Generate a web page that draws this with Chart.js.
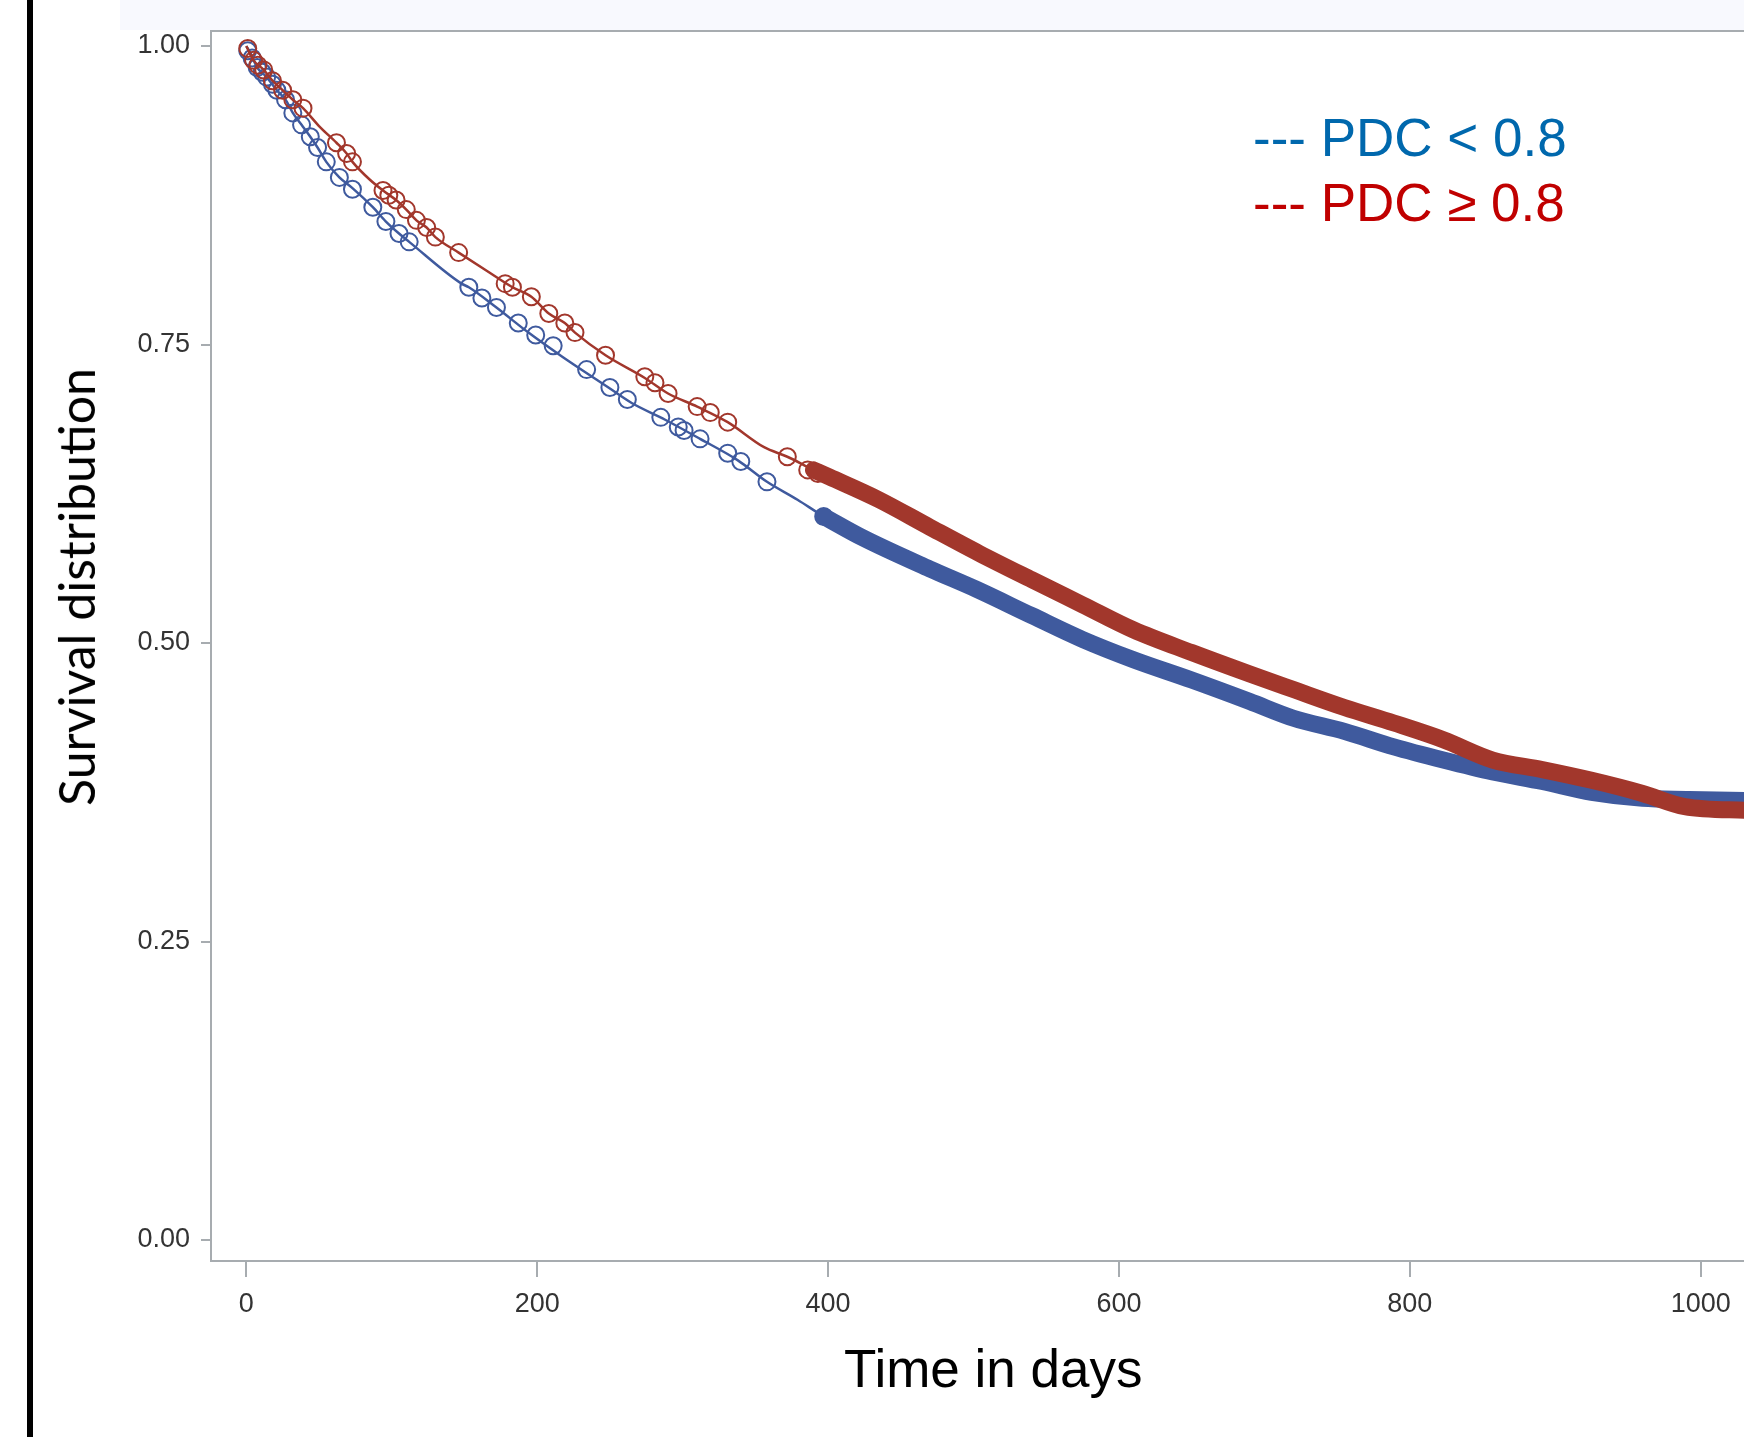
<!DOCTYPE html>
<html>
<head>
<meta charset="utf-8">
<script src="https://cdn.jsdelivr.net/npm/chart.js@4/dist/chart.umd.min.js"></script>
<style>
  html, body { margin:0; padding:0; background:#ffffff; overflow:hidden; width:1744px; height:1437px; }
  #wrap { position:absolute; left:0; top:0; width:1744px; height:1437px; overflow:hidden; }
  #topband { position:absolute; left:120px; top:0; width:1624px; height:30px; background:#f8f9fe; }
  #blackbar { position:absolute; left:27px; top:0; width:6px; height:1437px; background:#000; }
  canvas { position:absolute; left:0; top:0; }
  .lg { position:absolute; font-family:"Liberation Sans", Arial, sans-serif; font-size:53px; white-space:pre; line-height:1; }
  #xtitle { position:absolute; font-family:"Liberation Sans", Arial, sans-serif; font-size:53px; color:#000; white-space:pre; line-height:1; }
  #ytitle { position:absolute; font-family:Lato, "Liberation Sans", sans-serif; font-size:50px; color:#000; white-space:pre; line-height:1; transform-origin:center center; }
</style>
</head>
<body>
<div id="wrap">
  <div id="topband"></div>
  <div id="blackbar"></div>
  <canvas id="c" width="1900" height="1437" style="width:1900px;height:1437px;"></canvas>
  <div class="lg" id="lg1" style="left:1253px; top:111px; color:#0068ad;">--- PDC &lt; 0.8</div>
  <div class="lg" id="lg2" style="left:1253px; top:176px; color:#c00000;">--- PDC ≥ 0.8</div>
  <div id="xtitle">Time in days</div>
  <div id="ytitle">Survival distribution</div>
</div>
<script>
// ---- data ----
const xTickValues = [0, 200, 400, 600, 800, 1000];
const yTickValues = [0, 0.25, 0.5, 0.75, 1.0];

const blueDays = [0, 3, 7.5, 14, 21, 27, 32, 38, 44, 49, 55, 64, 73, 87, 96, 105, 112, 148, 153, 172, 194, 217, 249, 265, 288, 312, 338, 358, 379, 397, 424, 470, 502, 540, 575, 610, 650, 690, 720, 755, 789, 823, 857, 891, 925, 960, 992, 1030, 1130];
const blueSurv = [1.0, 0.994, 0.982, 0.974, 0.963, 0.955, 0.944, 0.934, 0.924, 0.915, 0.903, 0.890, 0.881, 0.865, 0.853, 0.843, 0.836, 0.801, 0.798, 0.781, 0.760, 0.740, 0.714, 0.701, 0.687, 0.671, 0.653, 0.635, 0.620, 0.606, 0.588, 0.562, 0.545, 0.523, 0.503, 0.486, 0.469, 0.451, 0.437, 0.426, 0.413, 0.402, 0.392, 0.384, 0.375, 0.370, 0.369, 0.368, 0.366];

const redDays = [0, 5, 12, 18, 25, 32, 39, 50, 62, 69, 73, 85, 94, 103, 110, 117, 124, 130, 146, 165, 183, 196, 208, 219, 226, 247, 274, 290, 310, 331, 356, 372, 390, 401, 435, 470, 504, 540, 575, 610, 650, 690, 720, 755, 789, 823, 857, 891, 925, 960, 989, 1030, 1130];
const redSurv = [1.0, 0.988, 0.980, 0.971, 0.963, 0.955, 0.948, 0.933, 0.919, 0.910, 0.903, 0.888, 0.879, 0.871, 0.863, 0.854, 0.848, 0.840, 0.827, 0.812, 0.798, 0.790, 0.776, 0.768, 0.760, 0.741, 0.722, 0.709, 0.698, 0.685, 0.664, 0.656, 0.645, 0.639, 0.620, 0.597, 0.575, 0.553, 0.532, 0.511, 0.492, 0.474, 0.461, 0.446, 0.433, 0.419, 0.402, 0.394, 0.385, 0.374, 0.363, 0.360, 0.358];

// censored observations (open circles) in the sparse part
const blueCensorDays = [1, 4, 7.5, 11, 14, 18, 21, 27, 32, 38, 44, 49, 55, 64, 73, 87, 96, 105, 112, 153, 162, 172, 187, 199, 211, 234, 250, 262, 285, 297, 301, 312, 331, 340, 358, 397];
const blueCensorSurv = [0.996, 0.990, 0.982, 0.978, 0.974, 0.968, 0.963, 0.955, 0.944, 0.934, 0.924, 0.915, 0.903, 0.890, 0.880, 0.865, 0.853, 0.843, 0.836, 0.798, 0.789, 0.781, 0.768, 0.758, 0.749, 0.729, 0.714, 0.704, 0.689, 0.681, 0.678, 0.671, 0.659, 0.652, 0.635, 0.606];

const redCensorDays = [1, 5, 8, 12, 18, 25, 32, 39, 62, 69, 73, 94, 98, 103, 110, 117, 124, 130, 146, 178, 183, 196, 208, 219, 226, 247, 274, 281, 290, 310, 319, 331, 372, 386, 393];
const redCensorSurv = [0.998, 0.988, 0.984, 0.980, 0.971, 0.963, 0.955, 0.948, 0.919, 0.910, 0.903, 0.879, 0.875, 0.871, 0.863, 0.854, 0.848, 0.840, 0.827, 0.801, 0.798, 0.790, 0.776, 0.768, 0.760, 0.741, 0.723, 0.718, 0.709, 0.698, 0.693, 0.685, 0.656, 0.645, 0.642];

// day from which the censor marks merge into a solid band
const blueBandFrom = 397;
const redBandFrom = 390;

// ---- build ----
const BLUE = '#3f5a9e';
const RED = '#a2372c';
const pts = (d, s) => d.map((x, i) => ({x: x, y: s[i]}));
const band = (d, s, from) => pts(d, s).filter(p => p.x >= from);

const framePlugin = {
  id: 'frame',
  beforeDatasetsDraw(chart) {
    const a = chart.chartArea, ctx = chart.ctx;
    ctx.save();
    ctx.strokeStyle = '#a7acb0';
    ctx.lineWidth = 2;
    ctx.strokeRect(a.left, a.top, a.right - a.left + 10, a.bottom - a.top);
    ctx.restore();
  }
};

const lineCommon = { pointRadius: 0, fill: false, cubicInterpolationMode: 'monotone' };

new Chart(document.getElementById('c'), {
  type: 'line',
  data: {
    datasets: [
      Object.assign({ label: 'PDC ≥ 0.8 band', data: band(redDays, redSurv, redBandFrom), borderColor: RED, borderWidth: 17, borderCapStyle: 'round', borderJoinStyle: 'round', order: 0 }, lineCommon),
      { label: 'PDC ≥ 0.8 censored', type: 'scatter', data: pts(redCensorDays, redCensorSurv), borderColor: RED, backgroundColor: 'rgba(0,0,0,0)', pointRadius: 8.5, borderWidth: 2, showLine: false, order: 1 },
      Object.assign({ label: 'PDC ≥ 0.8', data: pts(redDays, redSurv), borderColor: RED, borderWidth: 2.5, order: 2 }, lineCommon),
      Object.assign({ label: 'PDC < 0.8 band', data: band(blueDays, blueSurv, blueBandFrom), borderColor: BLUE, borderWidth: 17, borderCapStyle: 'round', borderJoinStyle: 'round', order: 3 }, lineCommon),
      { label: 'PDC < 0.8 censored', type: 'scatter', data: pts(blueCensorDays, blueCensorSurv), borderColor: BLUE, backgroundColor: 'rgba(0,0,0,0)', pointRadius: 8.5, borderWidth: 2, showLine: false, order: 4 },
      Object.assign({ label: 'PDC < 0.8', data: pts(blueDays, blueSurv), borderColor: BLUE, borderWidth: 2.5, order: 5 }, lineCommon)
    ]
  },
  options: {
    responsive: false,
    animation: false,
    devicePixelRatio: 1,
    layout: { padding: { left: 0, top: 31, right: 0, bottom: 0 } },
    plugins: { legend: { display: false }, tooltip: { enabled: false } },
    scales: {
      x: {
        type: 'linear',
        min: -24.26,
        max: 1129.8,
        afterFit(s) { s.height = 176; },
        afterBuildTicks(s) { s.ticks = xTickValues.map(v => ({value: v})); },
        border: { display: false },
        grid: { drawOnChartArea: false, drawTicks: true, tickLength: 16, color: '#a7acb0', lineWidth: 2 },
        ticks: { color: '#333333', padding: 11, font: { family: '"Liberation Sans", Arial, sans-serif', size: 27 }, maxRotation: 0, autoSkip: false, callback: v => String(v) }
      },
      y: {
        type: 'linear',
        min: -0.0176,
        max: 1.0126,
        afterFit(s) { s.width = 211; },
        afterBuildTicks(s) { s.ticks = yTickValues.map(v => ({value: v})); },
        border: { display: false },
        grid: { drawOnChartArea: false, drawTicks: true, tickLength: 10, color: '#a7acb0', lineWidth: 2 },
        ticks: { color: '#333333', padding: 11, font: { family: '"Liberation Sans", Arial, sans-serif', size: 27 }, callback: v => Number(v).toFixed(2) }
      }
    }
  },
  plugins: [framePlugin]
});

// place axis titles
const xt = document.getElementById('xtitle');
xt.style.left = (993 - xt.offsetWidth / 2) + 'px';
xt.style.top = (1368 - xt.offsetHeight / 2) + 'px';
const yt = document.getElementById('ytitle');
yt.style.left = (76 - yt.offsetWidth / 2) + 'px';
yt.style.top = (587 - yt.offsetHeight / 2) + 'px';
yt.style.transform = 'rotate(-90deg)';
</script>
</body>
</html>
